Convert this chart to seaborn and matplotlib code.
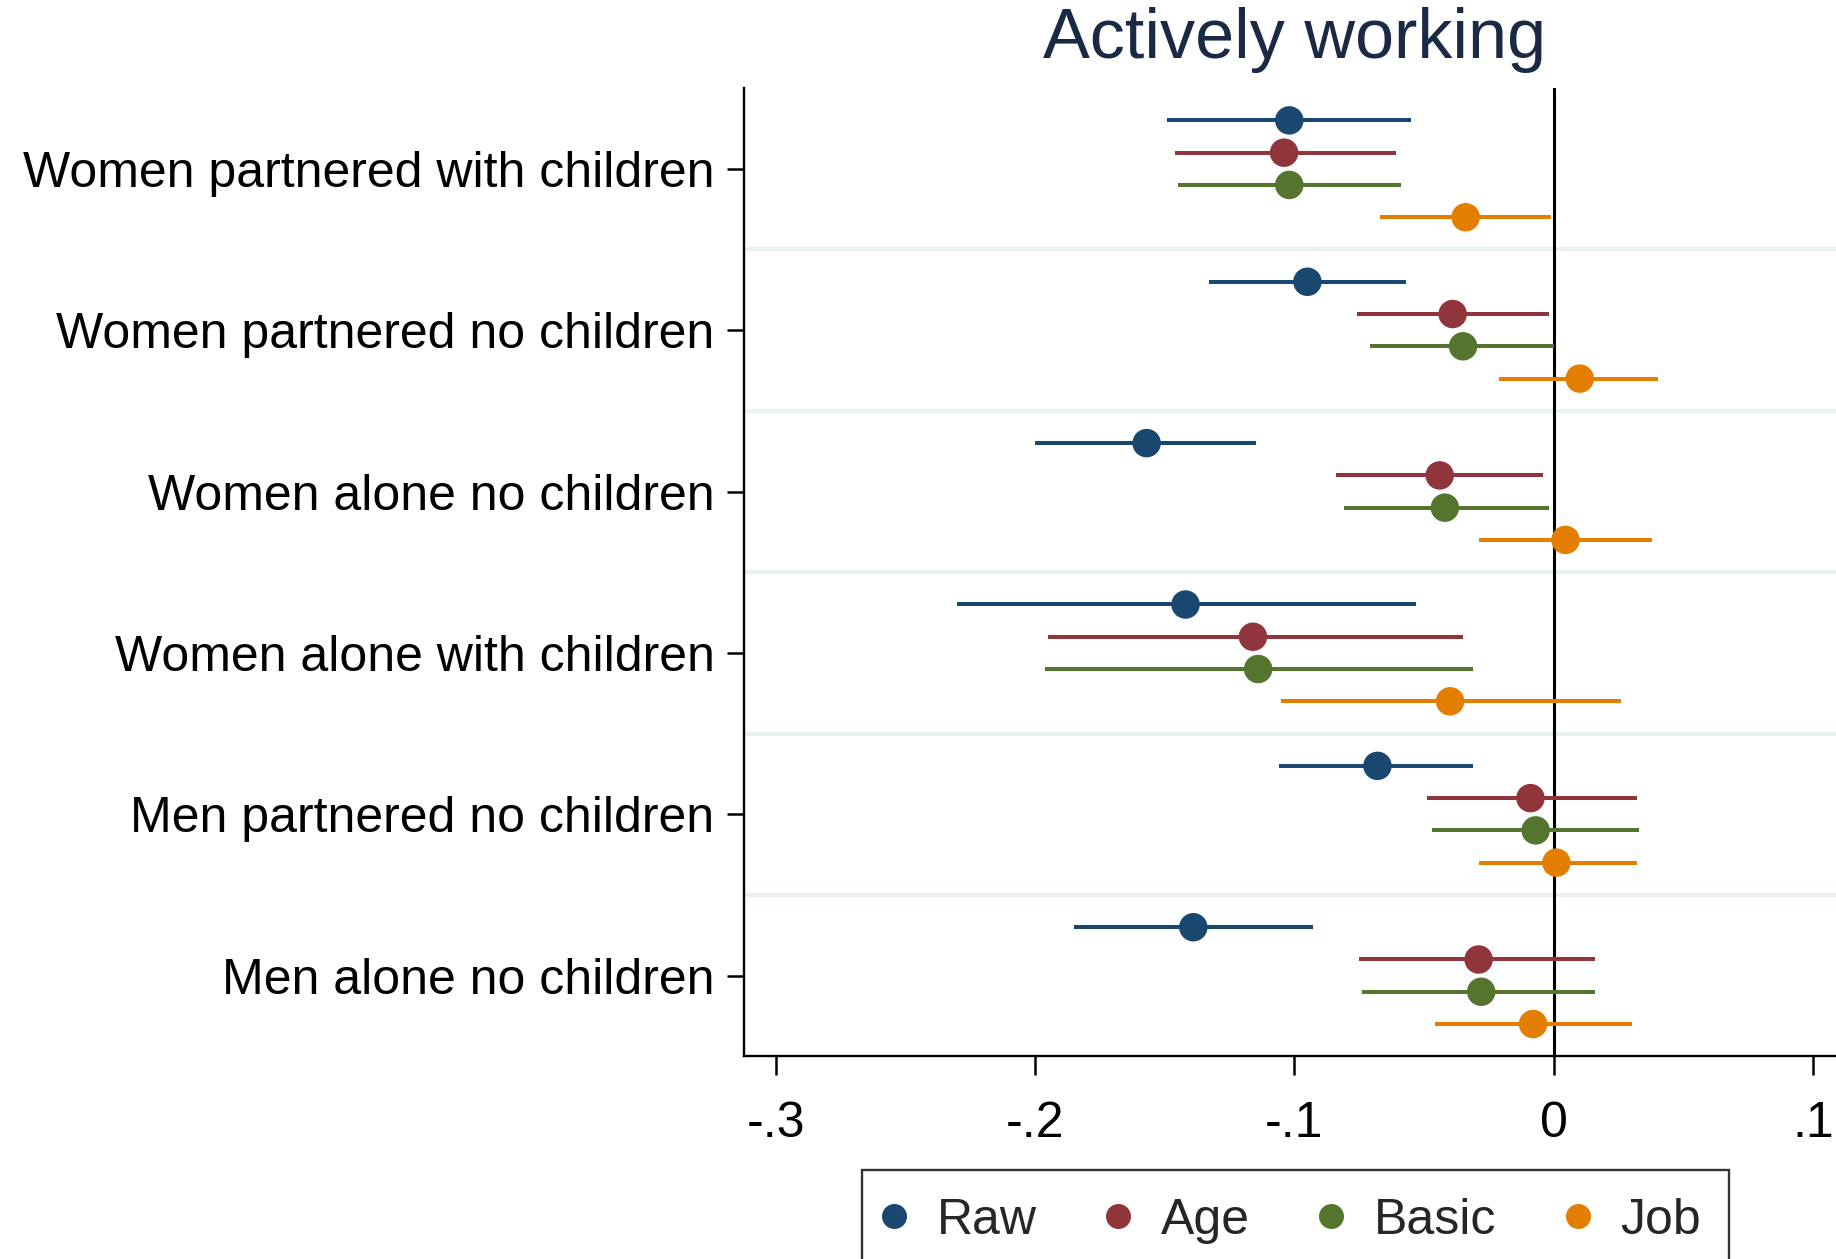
import numpy as np
import pandas as pd
import matplotlib
matplotlib.use("Agg")
import matplotlib.pyplot as plt
from matplotlib.lines import Line2D
import seaborn as sns

# Household groups (top to bottom) and model specifications
categories = [
    "Women partnered with children",
    "Women partnered no children",
    "Women alone no children",
    "Women alone with children",
    "Men partnered no children",
    "Men alone no children",
]
models = ["Raw", "Age", "Basic", "Job"]

# Point estimates per model, one value per group
est_raw = [-0.102, -0.095, -0.157, -0.142, -0.068, -0.139]
est_age = [-0.104, -0.039, -0.044, -0.116, -0.009, -0.029]
est_basic = [-0.102, -0.035, -0.042, -0.114, -0.007, -0.028]
est_job = [-0.034, 0.010, 0.0045, -0.040, 0.001, -0.008]

# Lower / upper confidence bounds
lo_raw = [-0.149, -0.133, -0.200, -0.230, -0.106, -0.185]
hi_raw = [-0.055, -0.057, -0.115, -0.053, -0.031, -0.093]
lo_age = [-0.146, -0.076, -0.084, -0.195, -0.049, -0.075]
hi_age = [-0.061, -0.002, -0.004, -0.035, 0.032, 0.016]
lo_basic = [-0.145, -0.071, -0.081, -0.196, -0.047, -0.074]
hi_basic = [-0.059, 0.000, -0.002, -0.031, 0.033, 0.016]
lo_job = [-0.067, -0.021, -0.029, -0.105, -0.029, -0.046]
hi_job = [-0.001, 0.040, 0.038, 0.026, 0.032, 0.030]

xtick_values = [-0.3, -0.2, -0.1, 0.0, 0.1]
xtick_labels = ["-.3", "-.2", "-.1", "0", ".1"]

colors = ["#1a476f", "#90353b", "#55752f", "#e37e00"]

estimates = [est_raw, est_age, est_basic, est_job]
lows = [lo_raw, lo_age, lo_basic, lo_job]
highs = [hi_raw, hi_age, hi_basic, hi_job]

rows = []
for m_i, model in enumerate(models):
    offset = (m_i - 1.5) * 0.2
    for g_i, cat in enumerate(categories):
        rows.append({
            "group": cat,
            "model": model,
            "pos": g_i + offset,
            "est": estimates[m_i][g_i],
            "lo": lows[m_i][g_i],
            "hi": highs[m_i][g_i],
        })
df = pd.DataFrame(rows)

sns.set_theme(style="white")
plt.rcParams["font.family"] = ["Liberation Sans", "DejaVu Sans"]

fig = plt.figure(figsize=(18.36, 12.59), dpi=100)
ax = fig.add_axes([0.405, 0.161, 0.595, 0.769])

# separators between groups
for b in np.arange(0.5, len(categories) - 0.5, 1.0):
    ax.axhline(b, color="#e8f0f2", lw=3, zorder=0)

ax.axvline(0, color="black", lw=2.2, zorder=1)

palette = dict(zip(models, colors))
for model in models:
    sub = df[df["model"] == model]
    ax.hlines(sub["pos"], sub["lo"], sub["hi"], color=palette[model], lw=2.9, zorder=2)

sns.scatterplot(data=df, x="est", y="pos", hue="model", palette=palette,
                s=420, edgecolor="none", legend=False, ax=ax, zorder=3)

ax.set_xlim(-0.3124, 0.1088)
ax.set_ylim(len(categories) - 0.5, -0.5)
ax.set_yticks(range(len(categories)))
ax.set_yticklabels(categories)
ax.set_xticks(xtick_values)
ax.set_xticklabels(xtick_labels)
ax.set_xlabel("")
ax.set_ylabel("")

for side in ["top", "right"]:
    ax.spines[side].set_visible(False)
for side in ["left", "bottom"]:
    ax.spines[side].set_color("black")
    ax.spines[side].set_linewidth(1.7)

ax.tick_params(axis="y", length=12, width=1.8, color="black", pad=9,
               labelsize=36, left=True)
ax.tick_params(axis="x", length=14, width=1.8, color="black", pad=18,
               labelsize=36, bottom=True)
for lab in ax.get_yticklabels() + ax.get_xticklabels():
    lab.set_color("black")

fig.text(0.705, 0.968, "Actively working", ha="center", va="center",
         fontsize=50.5, color="#1a2a44")

handles = [Line2D([0], [0], marker="o", color="none", markerfacecolor=c,
                  markeredgecolor="none", markersize=18) for c in colors]
leg = fig.legend(handles, models, loc="upper center",
                 bbox_to_anchor=(0.7055, 0.0705), ncol=4, fontsize=36,
                 frameon=True, fancybox=False, edgecolor="black",
                 handletextpad=0.76, columnspacing=1.52, handlelength=0.2,
                 borderpad=0.55, borderaxespad=0.0)
leg.get_frame().set_linewidth(1.7)

fig.savefig("out.png", dpi=100)
